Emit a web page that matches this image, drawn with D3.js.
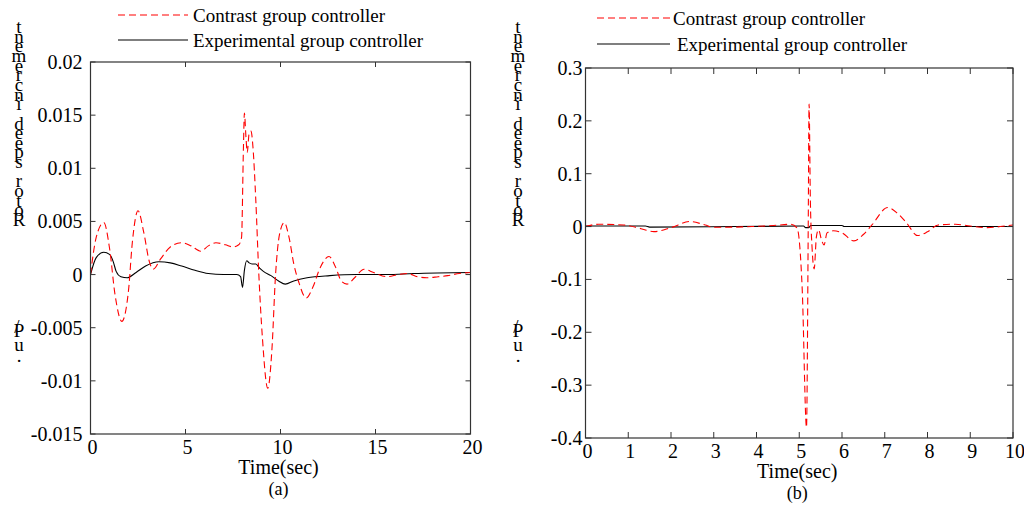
<!DOCTYPE html>
<html>
<head>
<meta charset="utf-8">
<script src="https://cdn.jsdelivr.net/npm/d3@7"></script>
<style>
  body { margin: 0; background: #fff; }
  svg text { font-family: "Liberation Serif", "DejaVu Serif", "Times New Roman", serif; }
</style>
</head>
<body>
<div id="chart"></div>
<script>
// panel (a) data, time in sec, value in p.u.
var timeA = [0, 0.3, 0.7, 1.0, 1.3, 1.65, 2.0, 2.2, 2.5, 2.8, 3.1, 3.3, 3.7, 4.2, 4.8, 5.3, 5.8, 6.2, 6.6, 7.1, 7.5, 7.8, 7.95,
  8.05, 8.1, 8.18, 8.25, 8.35, 8.45, 8.55, 8.7, 8.86, 9.05, 9.33, 9.55, 9.74, 9.95, 10.2, 10.45, 10.7, 10.96, 11.35, 11.7,
  12.1, 12.55, 12.9, 13.2, 13.5, 13.9, 14.4, 14.9, 15.6, 16.2, 16.7, 17.2, 17.7, 18.3, 18.8, 19.4, 20];
var contrastA = [0, 0.0035, 0.0049, 0.0025, -0.002, -0.0044, -0.0015, 0.003, 0.006, 0.004, 0.0012, 0.0005, 0.0015, 0.0026,
  0.003, 0.0027, 0.0022, 0.0027, 0.003, 0.0028, 0.0026, 0.0028, 0.0035, 0.012, 0.0152, 0.013, 0.0115, 0.0133, 0.0135, 0.012,
  0.007, 0.0, -0.006, -0.0107, -0.007, 0, 0.0038, 0.0049, 0.0035, 0.001, -0.0007, -0.0022, -0.0012, 0.0007, 0.0017, 0.0007,
  -0.0006, -0.0009, -0.0003, 0.0005, 0.0002, -0.0002, 0, 0.0001, -0.0002, -0.0003, -0.0002, -0.0001, 0.0001, 0.0002];
var timeExpA = [0, 0.3, 0.7, 1.0, 1.2, 1.35, 1.6, 1.93, 2.4, 2.9, 3.6, 4.2, 4.8, 5.5, 6.2, 7.0, 7.7, 7.9, 8.0, 8.1, 8.22,
  8.35, 8.5, 8.7, 8.9, 9.1, 9.5, 9.9, 10.25, 10.7, 11.4, 12.6, 14, 15.6, 17, 20];
var experimentalA = [0, 0.0016, 0.0021, 0.0019, 0.0012, 0.0003, -0.0002, -0.0003, 0.0002, 0.0008, 0.0012, 0.0011, 0.0008,
  0.0004, 0.0001, 0, 0, -0.0002, -0.0012, 0.0004, 0.0013, 0.0011, 0.001, 0.001, 0.0006, 0.0003, -0.0001, -0.0006, -0.0009,
  -0.0006, -0.0003, -0.0001, 0, 0, 0.0001, 0.0002];
var yTicksA = [-0.015, -0.01, -0.005, 0, 0.005, 0.01, 0.015, 0.02];
var xTicksA = [0, 5, 10, 15, 20];

// panel (b) data
var timeB = [0, 0.3, 0.9, 1.3, 1.6, 2.0, 2.45, 2.8, 3.0, 3.5, 3.9, 4.4, 4.8, 4.95, 5.07, 5.17, 5.21, 5.23, 5.26, 5.3, 5.35,
  5.4, 5.45, 5.52, 5.58, 5.65, 5.8, 6.0, 6.28, 6.5, 6.7, 7.07, 7.3, 7.5, 7.77, 8.0, 8.25, 8.65, 9.0, 9.4, 9.7, 10];
var contrastB = [0, 0.0044, 0.003, -0.004, -0.0096, -0.002, 0.0096, 0.003, -0.0013, -0.001, 0, 0.002, 0.0044, -0.003, -0.12,
  -0.38, 0.0, 0.232, 0.05, -0.04, -0.08, -0.02, -0.006, -0.025, -0.035, -0.012, -0.008, -0.012, -0.027, -0.015, 0.003, 0.036,
  0.025, 0.008, -0.017, -0.01, 0.003, 0.0044, 0.001, -0.002, 0, 0.003];
var timeExpB = [0, 1.4, 1.5, 3.5, 5.1, 5.15, 5.22, 5.27, 6.0, 6.05, 10];
var experimentalB = [0.001, 0.001, -0.001, 0, 0.001, -0.002, -0.002, 0.002, 0.002, 0, 0];
var yTicksB = [-0.4, -0.3, -0.2, -0.1, 0, 0.1, 0.2, 0.3];
var xTicksB = [0, 1, 2, 3, 4, 5, 6, 7, 8, 9, 10];

var seriesNames = ['Contrast group controller', 'Experimental group controller'];
var yLabelTop = 'Rotor speed increment';
var yLabelUnit = ['/', 'P', 'u', '.'];

var FONT = '"Liberation Serif", "DejaVu Serif", serif';

var svg = d3.select('#chart').append('svg')
  .attr('width', 1024)
  .attr('height', 505)
  .attr('font-family', FONT);

function zip(ts, vs) {
  return ts.map(function(t, i) { return [t, vs[i]]; });
}

function panel(opt) {
  var g = svg.append('g');
  var x = d3.scaleLinear().domain(opt.xDomain).range([opt.left, opt.right]);
  var y = d3.scaleLinear().domain(opt.yDomain).range([opt.bottom, opt.top]);

  var line = d3.line()
    .x(function(d) { return x(d[0]); })
    .y(function(d) { return y(d[1]); })
    .curve(d3.curveMonotoneX);

  g.append('path')
    .datum(zip(opt.t2, opt.exp))
    .attr('d', line)
    .attr('fill', 'none')
    .attr('stroke', '#000')
    .attr('stroke-width', 1.1);

  g.append('path')
    .datum(zip(opt.t1, opt.con))
    .attr('d', line)
    .attr('fill', 'none')
    .attr('stroke', '#ff0000')
    .attr('stroke-width', 1.1)
    .attr('stroke-dasharray', '7,4');

  // box
  g.append('rect')
    .attr('x', opt.left).attr('y', opt.top)
    .attr('width', opt.right - opt.left).attr('height', opt.bottom - opt.top)
    .attr('fill', 'none').attr('stroke', '#333').attr('stroke-width', 1.2);

  var tl = opt.tick;
  var fs = 20;
  // ticks point inward on all four sides
  g.selectAll('.ytl').data(opt.yTicks).enter().append('line')
    .attr('x1', opt.left).attr('x2', opt.left + tl)
    .attr('y1', function(d) { return y(d); }).attr('y2', function(d) { return y(d); })
    .attr('stroke', '#333');
  g.selectAll('.ytr').data(opt.yTicks).enter().append('line')
    .attr('x1', opt.right).attr('x2', opt.right - tl)
    .attr('y1', function(d) { return y(d); }).attr('y2', function(d) { return y(d); })
    .attr('stroke', '#333');
  g.selectAll('.ylab').data(opt.yTicks).enter().append('text')
    .attr('x', opt.left - opt.labelGap)
    .attr('y', function(d) { return y(d); })
    .attr('dy', '0.35em')
    .attr('text-anchor', 'end')
    .attr('font-size', fs)
    .text(function(d) { return String(d); });

  g.selectAll('.xtb').data(opt.xTicks).enter().append('line')
    .attr('x1', function(d) { return x(d); }).attr('x2', function(d) { return x(d); })
    .attr('y1', opt.bottom).attr('y2', opt.bottom - tl)
    .attr('stroke', '#333');
  g.selectAll('.xtt').data(opt.xTicks).enter().append('line')
    .attr('x1', function(d) { return x(d); }).attr('x2', function(d) { return x(d); })
    .attr('y1', opt.top).attr('y2', opt.top + tl)
    .attr('stroke', '#333');
  g.selectAll('.xlab').data(opt.xTicks).enter().append('text')
    .attr('x', function(d) { return x(d) + 2; })
    .attr('y', opt.bottom + 13)
    .attr('dy', '0.35em')
    .attr('text-anchor', 'middle')
    .attr('font-size', fs)
    .text(function(d) { return d; });

  var mid = (opt.left + opt.right) / 2;
  g.append('text').attr('x', mid - 2).attr('y', opt.bottom + 33).attr('dy', '0.35em')
    .attr('text-anchor', 'middle').attr('font-size', fs).text('Time(sec)');
  g.append('text').attr('x', mid - 2).attr('y', opt.panelY).attr('dy', '0.35em')
    .attr('text-anchor', 'middle').attr('font-size', 18).text(opt.panel);

  // legend
  var leg = [
    { name: seriesNames[0], dash: '7,4', color: '#ff0000', y: opt.legY[0], tx: opt.legText[0] },
    { name: seriesNames[1], dash: null, color: '#000', y: opt.legY[1], tx: opt.legText[1] }
  ];
  leg.forEach(function(d) {
    g.append('line')
      .attr('x1', opt.legX[0]).attr('x2', opt.legX[1])
      .attr('y1', d.y).attr('y2', d.y)
      .attr('stroke', d.color).attr('stroke-width', 1.1)
      .attr('stroke-dasharray', d.dash);
    g.append('text').attr('x', d.tx).attr('y', d.y).attr('dy', '0.35em')
      .attr('font-size', 19).text(d.name);
  });

  // stacked y label, characters reversed as in the source figure
  var chars = yLabelTop.split('').reverse();
  var yl = g.append('text').attr('font-size', 19).attr('text-anchor', 'middle');
  chars.forEach(function(c, i) {
    yl.append('tspan').attr('x', opt.ylx).attr('y', 33 + i * 9.65).text(c);
  });
  var unitY = [333, 337, 351, 362];
  var ul = g.append('text').attr('font-size', 19).attr('text-anchor', 'middle');
  yLabelUnit.forEach(function(c, i) {
    ul.append('tspan').attr('x', opt.ylx + (i === 0 ? -2 : 0)).attr('y', unitY[i]).text(c);
  });
}

panel({
  left: 90.5, right: 470.5, top: 62, bottom: 434,
  xDomain: [0, 20], yDomain: [-0.015, 0.02],
  t1: timeA, con: contrastA, t2: timeExpA, exp: experimentalA,
  yTicks: yTicksA, xTicks: xTicksA,
  tick: 5, labelGap: 8, panel: '(a)', panelY: 489,
  legX: [118, 188], legY: [15, 40], legText: [193, 193], ylx: 19
});

panel({
  left: 585.5, right: 1013, top: 68, bottom: 438,
  xDomain: [0, 10], yDomain: [-0.4, 0.3],
  t1: timeB, con: contrastB, t2: timeExpB, exp: experimentalB,
  yTicks: yTicksB, xTicks: xTicksB,
  tick: 6, labelGap: 3, panel: '(b)', panelY: 493,
  legX: [597, 670], legY: [18, 44], legText: [673, 677], ylx: 518
});
</script>
</body>
</html>
